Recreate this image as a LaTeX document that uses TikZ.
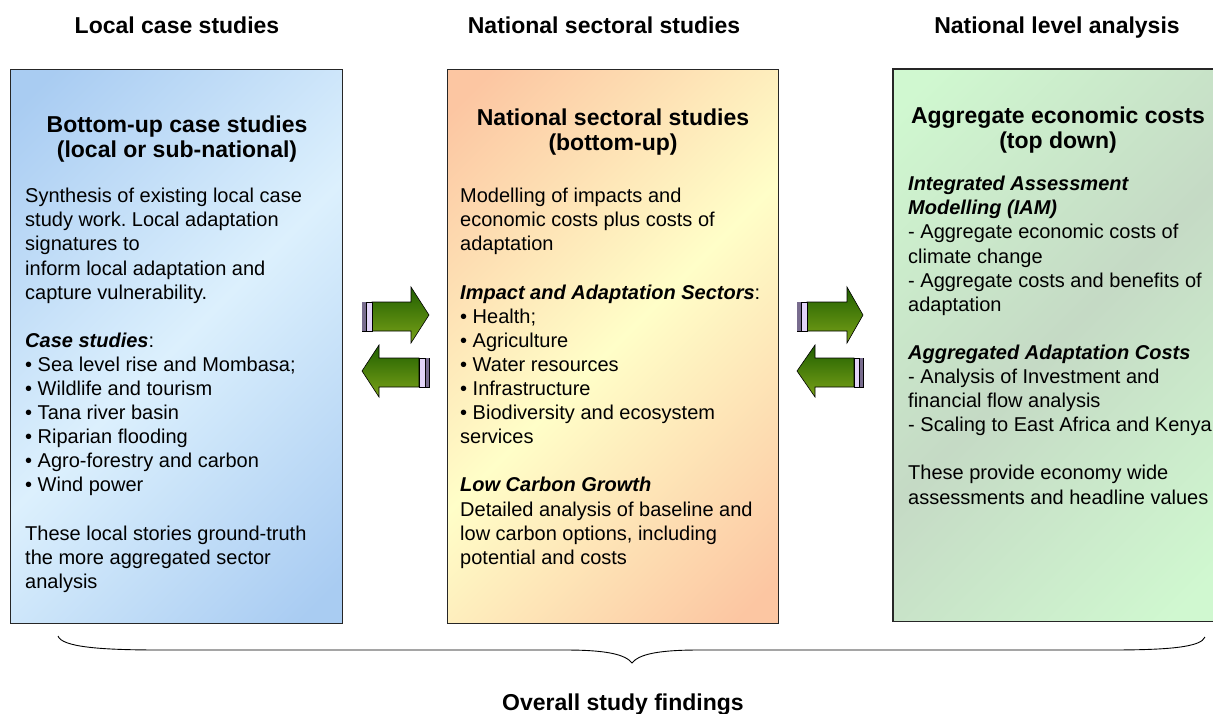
\documentclass[tikz,border=0pt]{standalone}
\usepackage{fontspec}
\setmainfont{Liberation Sans}
\frenchspacing
\definecolor{salm}{HTML}{FCC6A2}
\definecolor{yell}{HTML}{FFFEC8}
\definecolor{bluec}{HTML}{A9CCF2}
\definecolor{bluel}{HTML}{DCF0FD}
\definecolor{greenc}{HTML}{D0F8D0}
\definecolor{greeng}{HTML}{C5DAC5}
\definecolor{arrdark}{HTML}{1F5E00}
\definecolor{arrlight}{HTML}{7AA218}
\definecolor{lav}{HTML}{E2D4F8}
\definecolor{lavdark}{HTML}{786C8E}
\pgfdeclarehorizontalshading{midshade}{100bp}{color(0bp)=(salm); color(18bp)=(salm); color(50bp)=(yell); color(82bp)=(salm); color(100bp)=(salm)}
\pgfdeclarehorizontalshading{blueshade}{100bp}{color(0bp)=(bluec); color(18bp)=(bluec); color(50bp)=(bluel); color(82bp)=(bluec); color(100bp)=(bluec)}
\pgfdeclarehorizontalshading{greenshade}{100bp}{color(0bp)=(greenc); color(18bp)=(greenc); color(50bp)=(greeng); color(82bp)=(greenc); color(100bp)=(greenc)}
\begin{document}
\begin{tikzpicture}[x=1pt,y=-1pt,
  hdr/.style={font=\fontsize{23}{26}\selectfont\bfseries, inner sep=0, anchor=base},
  ttl/.style={font=\fontsize{23}{25.5}\selectfont\bfseries, inner sep=0, anchor=north, align=center},
  body/.style={font=\fontsize{20}{24.1}\selectfont, inner sep=0, anchor=north west, align=left},
  boxframe/.style={draw=black!85, line width=1.1pt},
  panel/.style={inner sep=0, anchor=north west, shading angle=-45},
  arr/.style={draw=black, line width=0.6pt, top color=arrdark, bottom color=arrlight},
  barlight/.style={draw=black, line width=0.6pt, fill=lav},
  bardark/.style={fill=lavdark},
  bracestyle/.style={draw=black, line width=0.9pt}]
\useasboundingbox (0,0) rectangle (1213,713);

% headers
\node[hdr] (hL) at (177,33) {Local case studies};
\node[hdr] (hM) at (604,33) {National sectoral studies};
\node[hdr] (hR) at (1057,33) {National level analysis};

% panels
\node[panel, boxframe, shading=blueshade, minimum width=332pt, minimum height=554pt] (boxL) at (10,69) {};
\node[panel, boxframe, shading=midshade, minimum width=331pt, minimum height=554pt] (boxM) at (447,69) {};
\node[panel, shading=greenshade, minimum width=320pt, minimum height=552pt] (boxR) at (893,69) {};
\draw[boxframe] (boxR.north east) -- (boxR.north west) -- (boxR.south west) -- (boxR.south east);

% titles
\node[ttl] (tL) at (177,115.4) {Bottom-up case studies\\(local or sub-national)};
\node[ttl] (tM) at (613,108.4) {National sectoral studies\\(bottom-up)};
\node[ttl] (tR) at (1058,106.4) {Aggregate economic costs\\(top down)};

% bodies
\node[body] (bL) at (25,188) {Synthesis of existing local case\\
study work. Local adaptation\\
signatures to\\
inform local adaptation and\\
capture vulnerability.\\[24.1pt]
\textbf{\textit{Case studies}}:\\
• Sea level rise and Mombasa;\\
• Wildlife and tourism\\
• Tana river basin\\
• Riparian flooding\\
• Agro-forestry and carbon\\
• Wind power\\[24.1pt]
These local stories ground-truth\\
the more aggregated sector\\
analysis};

\node[body] (bM) at (460,188) {Modelling of impacts and\\
economic costs plus costs of\\
adaptation\\[24.1pt]
\textbf{\textit{Impact and Adaptation Sectors}}:\\
• Health;\\
• Agriculture\\
• Water resources\\
• Infrastructure\\
• Biodiversity and ecosystem\\
services\\[24.1pt]
\textbf{\textit{Low Carbon Growth}}\\
Detailed analysis of baseline and\\
low carbon options, including\\
potential and costs};

\node[body] (bR) at (908,176) {\textbf{\textit{Integrated Assessment}}\\
\textbf{\textit{Modelling (IAM)}}\\
- Aggregate economic costs of\\
climate change\\
- Aggregate costs and benefits of\\
adaptation\\[24.1pt]
\textbf{\textit{Aggregated Adaptation Costs}}\\
- Analysis of Investment and\\
financial flow analysis\\
- Scaling to East Africa and Kenya\\[24.1pt]
These provide economy wide\\
assessments and headline values};

% arrows between left and middle
\draw[arr] (372,302) -- (411,302) -- (411,287) -- (429,315) -- (411,343) -- (411,331) -- (372,331) -- cycle;
\draw[barlight] (362,302) rectangle (372,331);
\fill[bardark] (362.3,302.3) rectangle (366,330.7);
\draw[line width=0.6pt] (366,302) -- (366,331);

\draw[arr] (419,358) -- (379,358) -- (379,345) -- (362,371) -- (379,397) -- (379,387) -- (419,387) -- cycle;
\draw[barlight] (419,358) rectangle (429,387);
\fill[bardark] (425,358.3) rectangle (428.7,386.7);
\draw[line width=0.6pt] (425,358) -- (425,387);

% arrows between middle and right
\draw[arr] (807,302) -- (847,302) -- (847,287) -- (863,315) -- (847,343) -- (847,331) -- (807,331) -- cycle;
\draw[barlight] (797,302) rectangle (807,331);
\fill[bardark] (797.3,302.3) rectangle (801,330.7);
\draw[line width=0.6pt] (801,302) -- (801,331);

\draw[arr] (854,358) -- (815,358) -- (815,345) -- (797,371) -- (815,397) -- (815,387) -- (854,387) -- cycle;
\draw[barlight] (854,358) rectangle (863,387);
\fill[bardark] (859.5,358.3) rectangle (862.7,386.7);
\draw[line width=0.6pt] (859.5,358) -- (859.5,387);

% brace
\coordinate (brL) at (58,636);
\coordinate (brTip) at (632,663);
\coordinate (brR) at (1205,637);
\draw[bracestyle] (brL) .. controls (62,647) and (100,650) .. (160,650) -- (565,650) .. controls (605,650) and (625,654) .. (brTip) .. controls (639,654) and (659,650) .. (699,650) -- (1110,650) .. controls (1170,650) and (1201,647) .. (brR);

\node[hdr] (foot) at (623,710) {Overall study findings};
\end{tikzpicture}
\end{document}
